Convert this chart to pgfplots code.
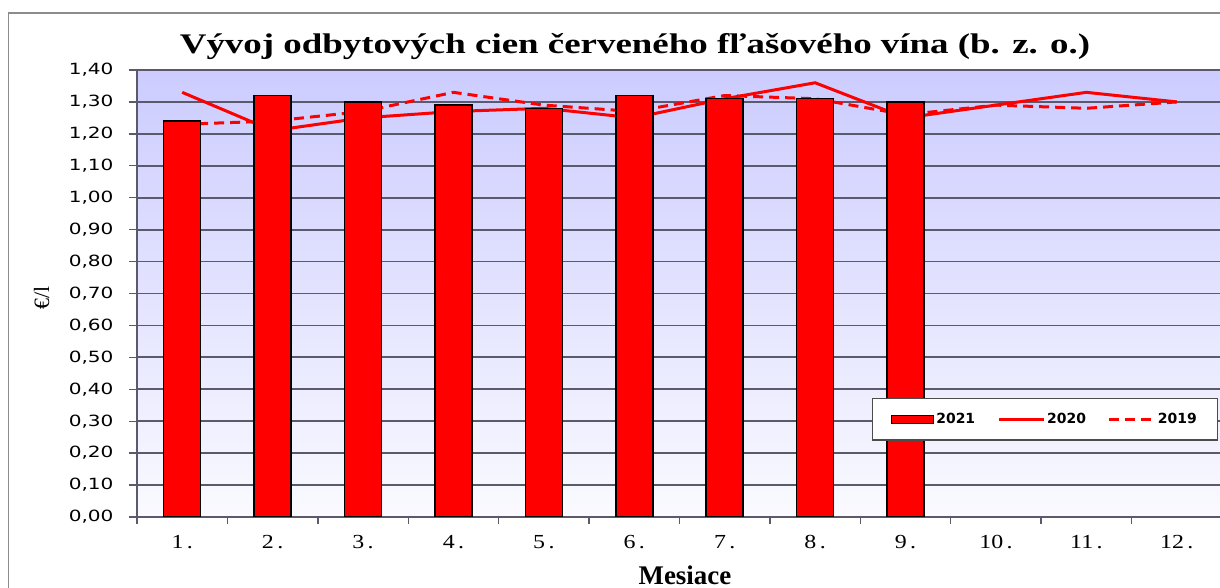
\documentclass[border=0pt]{standalone}
\usepackage{fontspec}
\setmainfont{Liberation Serif}
\usepackage{pgfplots}
\pgfplotsset{compat=1.18}
\newfontfamily\tickfont[FakeStretch=1.3]{DejaVu Sans}
\newfontfamily\xfont[FakeStretch=1.2]{Liberation Serif}
\newfontfamily\titlefont[FakeStretch=1.3]{Liberation Serif}
\newfontfamily\legfont{DejaVu Sans}
\definecolor{gridc}{RGB}{90,90,108}
\definecolor{bgtop}{RGB}{204,204,255}
\definecolor{bgbot}{RGB}{250,250,255}
\definecolor{framec}{RGB}{140,140,140}
\pgfplotsset{
  lineleg/.style={legend image code/.code={\draw[##1] (0bp,0bp) -- (45bp,0bp);}},
  barleg/.style={legend image code/.code={\draw[fill=red, draw=black, line width=1.2bp] (0bp,-4bp) rectangle (42bp,4bp);}},
}

\begin{document}
\begin{tikzpicture}
\path[use as bounding box] (0,0) rectangle (1220bp,588bp);
\draw[framec, line width=1.5bp] (8.5bp,-20bp) -- (8.5bp,575bp) -- (1240bp,575bp);
\node[font=\titlefont\bfseries\fontsize{28.5}{30}\selectfont] at (635bp,541bp) {Vývoj odbytových cien červeného fľašového vína (b. z. o.)};
\begin{axis}[
  at={(137bp,71bp)}, anchor=south west,
  scale only axis, width=1085bp, height=447bp,
  xmin=0.5, xmax=12.5, ymin=0, ymax=1.4,
  ytick={0,0.1,0.2,0.3,0.4,0.5,0.6,0.7,0.8,0.9,1.0,1.1,1.2,1.3,1.4},
  xtick={1,2,3,4,5,6,7,8,9,10,11,12},
  xticklabels={1\,.,2\,.,3\,.,4\,.,5\,.,6\,.,7\,.,8\,.,9\,.,10\,.,11\,.,12\,.},
  minor xtick={0.5,1.5,2.5,3.5,4.5,5.5,6.5,7.5,8.5,9.5,10.5,11.5,12.5},
  major x tick style={draw=none},
  tick align=outside,
  major tick length=8bp, minor tick length=7bp,
  tick style={draw=gridc, line width=1.4bp},
  axis x line*=bottom, axis y line*=left,
  axis line style={draw=gridc, line width=1.8bp},
  ymajorgrids, major grid style={draw=gridc, line width=1.8bp},
  axis background/.style={top color=bgtop, bottom color=bgbot},
  /pgf/number format/.cd, fixed, fixed zerofill, precision=2, use comma, assume math mode=true,
  /pgfplots/.cd,
  yticklabel style={font=\tickfont\fontsize{15.5}{15.5}\selectfont, xshift=-12bp},
  xticklabel style={font=\xfont\fontsize{20}{20}\selectfont, yshift=-7bp},
  xlabel={Mesiace},
  xlabel style={font=\bfseries\fontsize{27}{27}\selectfont, at={(axis description cs:0.505,0)}, anchor=north, yshift=-45bp},
  ylabel={€/l},
  ylabel style={font=\fontsize{22}{22}\selectfont, at={(axis description cs:-0.088,0.49)}, anchor=center},
  legend columns=3,
  reverse legend,
  legend style={at={(axis description cs:0.677,0.267)}, anchor=north west,
    draw=black!70, line width=1.2bp, fill=white,
    font=\legfont\bfseries\fontsize{14}{14}\selectfont,
    inner xsep=19bp, inner ysep=13bp,
    /tikz/every even column/.append style={column sep=20bp}},
]
\addplot[red, line width=3bp, dash pattern=on 10bp off 6bp, lineleg]
  coordinates {(1,1.23) (2,1.24) (3,1.27) (4,1.33) (5,1.29) (6,1.27) (7,1.32) (8,1.31) (9,1.26) (10,1.29) (11,1.28) (12,1.30)};
\addlegendentry{2019}
\addplot[red, line width=3bp, lineleg]
  coordinates {(1,1.33) (2,1.21) (3,1.25) (4,1.27) (5,1.28) (6,1.25) (7,1.31) (8,1.36) (9,1.25) (10,1.29) (11,1.33) (12,1.30)};
\addlegendentry{2020}
\addplot[ybar, bar width=0.41, fill=red, draw=black, line width=1.5bp, barleg]
  coordinates {(1,1.24) (2,1.32) (3,1.30) (4,1.29) (5,1.28) (6,1.32) (7,1.31) (8,1.31) (9,1.30)};
\addlegendentry{2021}
\end{axis}
\end{tikzpicture}
\end{document}
